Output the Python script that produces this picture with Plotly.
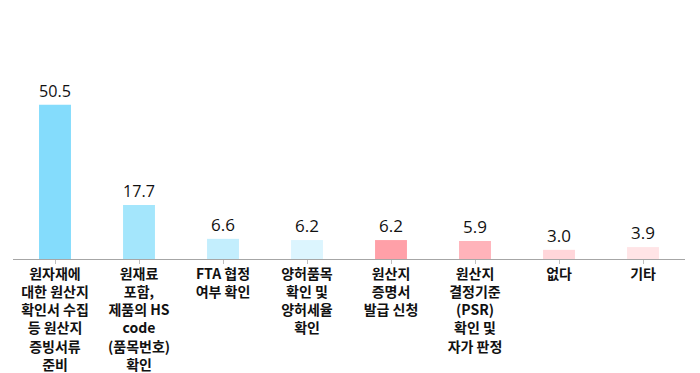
import plotly.graph_objects as go

categories = [
    "원자재에<br>대한 원산지<br>확인서 수집<br>등 원산지<br>증빙서류<br>준비",
    "원재료<br>포함,<br>제품의 HS<br>code<br>(품목번호)<br>확인",
    "FTA 협정<br>여부 확인",
    "양허품목<br>확인 및<br>양허세율<br>확인",
    "원산지<br>증명서<br>발급 신청",
    "원산지<br>결정기준<br>(PSR)<br>확인 및<br>자가 판정",
    "없다",
    "기타",
]
values = [50.5, 17.7, 6.6, 6.2, 6.2, 5.9, 3.0, 3.9]
colors = ["#84dcfc", "#a4e6fc", "#c3eefd", "#dcf5fe",
          "#ffa0a8", "#ffb3ba", "#ffd6da", "#ffe4e6"]

fig = go.Figure(go.Bar(
    x=list(range(len(categories))),
    y=values,
    marker=dict(color=colors, line=dict(width=0)),
    width=0.38,
    text=[f"{v:.1f}" for v in values],
    textposition="outside",
    cliponaxis=False,
    textfont=dict(family="Open Sans, Noto Sans, sans-serif", size=17, color="#111111"),
    hoverinfo="skip",
))

fig.update_layout(
    width=700, height=373,
    margin=dict(l=13, r=15, t=91, b=114),
    paper_bgcolor="white", plot_bgcolor="white",
    showlegend=False,
    xaxis=dict(
        automargin=False,
        tickmode="array",
        tickvals=list(range(len(categories))),
        ticktext=categories,
        range=[-0.5, len(categories) - 0.5],
        showline=True, linecolor="#a6a6a6", linewidth=1,
        ticks="outside", tickson="boundaries", ticklen=4, tickcolor="#bfbfbf",
        ticklabelstandoff=-2,
        tickfont=dict(family="Noto Sans CJK KR", size=14, color="#111111", weight=600),
        showgrid=False, zeroline=False,
    ),
    yaxis=dict(range=[0, 55], visible=False, showgrid=False, zeroline=False, automargin=False),
)

fig.write_html("out.html", config={"displayModeBar": False},
               post_script="document.body.style.margin='0';")
